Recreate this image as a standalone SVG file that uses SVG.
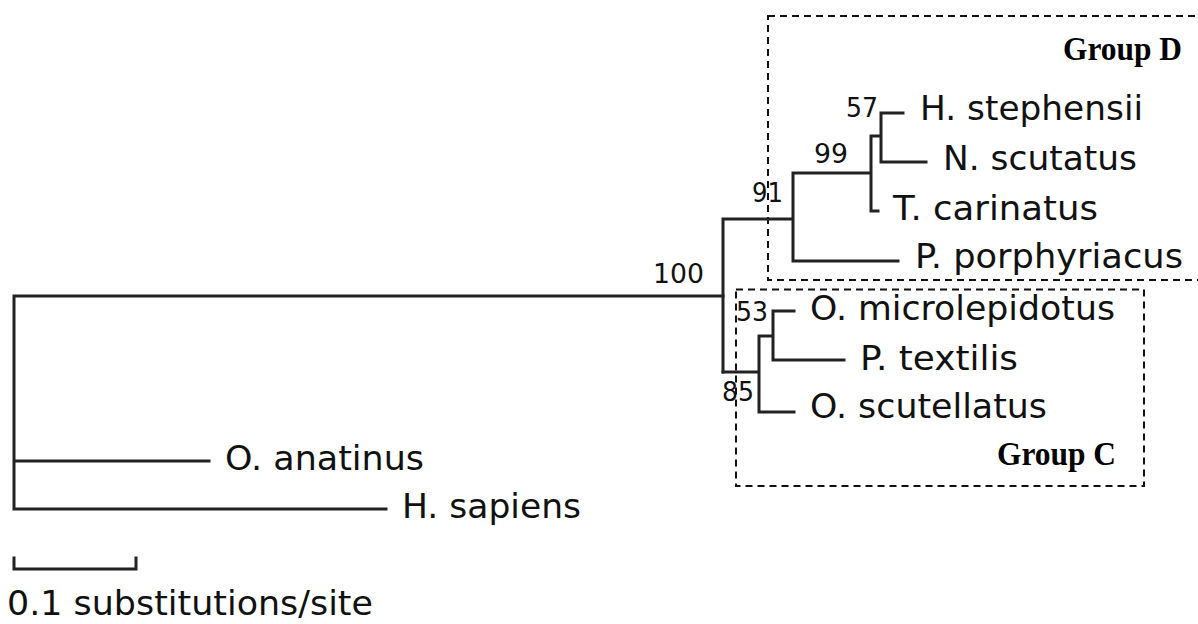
<svg xmlns="http://www.w3.org/2000/svg" width="1198" height="624" viewBox="0 0 1198 624">
<style>
.br{fill:none;stroke:#222;stroke-width:3;stroke-linecap:square}
.box{fill:none;stroke:#111;stroke-width:2;stroke-dasharray:7 5}
.tx{font-family:"DejaVu Sans",Verdana,sans-serif;font-size:34px;fill:#111}
.bs{font-family:"DejaVu Sans",Verdana,sans-serif;font-size:27px;fill:#111}
.grp{font-family:"Liberation Serif","Times New Roman",serif;font-size:33px;font-weight:bold;fill:#000}
</style>
<rect width="1198" height="624" fill="#fff"/>
<g id="groupD"><rect class="box" x="768" y="16" width="440" height="264"/><text class="grp" x="1063" y="60" textLength="119" lengthAdjust="spacingAndGlyphs">Group D</text></g>
<g id="groupC"><rect class="box" x="736" y="289.5" width="408" height="196.5"/><text class="grp" x="997" y="465" textLength="119" lengthAdjust="spacingAndGlyphs">Group C</text></g>
<g id="connectors">
<path class="br" d="M14,296 H723 M14,296 V509 M14,461 H209 M14,509 H386"/>
<path class="br" d="M723,219 V372 M723,219 H793 M793,173 V261 M793,261 H898 M793,173 H871 M871,136 V211 M871,211 H878 M871,136 H881 M881,113 V162 M881,113 H903 M881,162 H926"/>
<path class="br" d="M723,372 H759 M759,336 V412 M759,412 H794 M759,336 H773 M773,311 V360 M773,311 H794 M773,360 H844"/>
<path class="br" d="M14,558 V569 H136 V558"/>
</g>
<g id="n100"><text class="bs" x="653" y="283" textLength="51" lengthAdjust="spacingAndGlyphs">100</text></g>
<g id="n91"><text class="bs" x="752" y="202" textLength="31" lengthAdjust="spacingAndGlyphs">91</text></g>
<g id="n99"><text class="bs" x="814" y="163" textLength="34" lengthAdjust="spacingAndGlyphs">99</text></g>
<g id="n57"><text class="bs" x="846" y="117" textLength="32" lengthAdjust="spacingAndGlyphs">57</text></g>
<g id="n53"><text class="bs" x="736" y="321" textLength="32" lengthAdjust="spacingAndGlyphs">53</text></g>
<g id="n85"><text class="bs" x="722" y="401" textLength="32" lengthAdjust="spacingAndGlyphs">85</text></g>
<g id="t1"><text class="tx" x="920" y="120" textLength="223" lengthAdjust="spacingAndGlyphs">H. stephensii</text></g>
<g id="t2"><text class="tx" x="943" y="170" textLength="194" lengthAdjust="spacingAndGlyphs">N. scutatus</text></g>
<g id="t3"><text class="tx" x="893" y="220" textLength="205" lengthAdjust="spacingAndGlyphs">T. carinatus</text></g>
<g id="t4"><text class="tx" x="915" y="268" textLength="268" lengthAdjust="spacingAndGlyphs">P. porphyriacus</text></g>
<g id="t5"><text class="tx" x="810" y="320" textLength="305" lengthAdjust="spacingAndGlyphs">O. microlepidotus</text></g>
<g id="t6"><text class="tx" x="860" y="370" textLength="158" lengthAdjust="spacingAndGlyphs">P. textilis</text></g>
<g id="t7"><text class="tx" x="810" y="418" textLength="237" lengthAdjust="spacingAndGlyphs">O. scutellatus</text></g>
<g id="t8"><text class="tx" x="225" y="470" textLength="199" lengthAdjust="spacingAndGlyphs">O. anatinus</text></g>
<g id="t9"><text class="tx" x="402" y="518" textLength="179" lengthAdjust="spacingAndGlyphs">H. sapiens</text></g>
<g id="scale"><text class="tx" x="7" y="615" textLength="366" lengthAdjust="spacingAndGlyphs">0.1 substitutions/site</text></g>
</svg>
